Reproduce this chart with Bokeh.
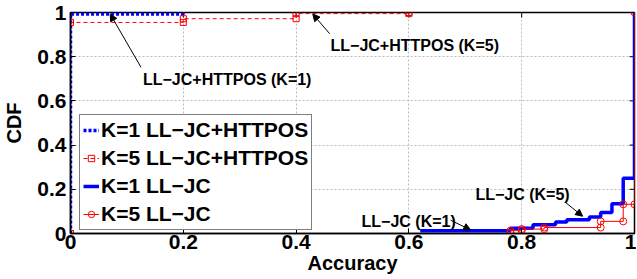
from bokeh.plotting import figure
from bokeh.models import (FixedTicker, Range1d, Label, Arrow, NormalHead,
                          Legend, LegendItem)
from bokeh.embed import file_html
from bokeh.resources import INLINE

# ---------------- data (CDF step functions) -------------
# K=1 LL-JC+HTTPOS
k1h_start = (0.0, 0.0)
k1h_x = [0.0, 0.2]
k1h_cdf = [0.993, 1.0]
# K=5 LL-JC+HTTPOS
k5h_start = (0.0, 0.0)
k5h_x = [0.0, 0.2, 0.4, 0.6]
k5h_cdf = [0.955, 0.972, 0.995, 1.0]
# K=1 LL-JC
k1_start = (0.62, 0.013)
k1_x = [0.78, 0.82, 0.86, 0.88, 0.92, 0.94, 0.96, 0.98, 1.0]
k1_cdf = [0.024, 0.040, 0.052, 0.062, 0.075, 0.095, 0.135, 0.25, 1.0]
# K=5 LL-JC
k5_start = (0.78, 0.003)
k5_x = [0.78, 0.80, 0.84, 0.94, 0.98, 1.0]
k5_cdf = [0.013, 0.020, 0.027, 0.055, 0.132, 1.0]

x_ticks = [0, 0.2, 0.4, 0.6, 0.8, 1]
y_ticks = [0, 0.2, 0.4, 0.6, 0.8, 1]

x_title = "Accuracy"
y_title = "CDF"
labels = ["K=1 LL\u2212JC+HTTPOS", "K=5 LL\u2212JC+HTTPOS",
          "K=1 LL\u2212JC", "K=5 LL\u2212JC"]

# annotations: text, text position, arrow tail, arrow head
notes = [
    ("LL\u2212JC+HTTPOS (K=1)", (0.1285, 0.697), (0.125, 0.752), (0.0704, 0.993)),
    ("LL\u2212JC+HTTPOS (K=5)", (0.461, 0.850), (0.4595, 0.904), (0.4296, 0.993)),
    ("LL\u2212JC (K=1)", (0.516, 0.055), (0.674, 0.060), (0.7095, 0.016)),
    ("LL\u2212JC (K=5)", (0.718, 0.178), (0.877, 0.142), (0.908, 0.078)),
]


def stairs(start, xs, levels):
    X = [start[0]]
    Y = [start[1]]
    prev = start[1]
    for x, l in zip(xs, levels):
        X += [x, x]
        Y += [prev, l]
        prev = l
    return X, Y


FONT = "Liberation Sans"
BLUE = "#0000ff"
RED = "#ff0000"

p = figure(width=636, height=277, x_range=Range1d(0, 1), y_range=Range1d(0, 1),
           output_backend="svg", toolbar_location=None,
           min_border_left=66, min_border_right=2, min_border_top=12,
           min_border_bottom=44)

p.outline_line_color = "black"
p.outline_line_width = 1.5
p.outline_line_alpha = 1.0

for ax, ticks in ((p.xaxis, x_ticks), (p.yaxis, y_ticks)):
    ax.ticker = FixedTicker(ticks=ticks)
    ax.axis_line_color = "black"
    ax.axis_line_width = 1.5
    ax.major_tick_in = 5
    ax.major_tick_out = 0
    ax.minor_tick_in = 0
    ax.minor_tick_out = 0
    ax.major_tick_line_color = "black"
    ax.major_label_overrides = {0: "0", 1: "1"}
    ax.major_label_text_font = FONT
    ax.major_label_text_font_style = "bold"
    ax.major_label_text_font_size = "21px"
    ax.major_label_text_color = "black"
    ax.axis_label_text_font = FONT
    ax.axis_label_text_font_style = "bold"
    ax.axis_label_text_font_size = "20px"
    ax.axis_label_text_color = "black"
p.xaxis.axis_label = x_title
p.yaxis.axis_label = y_title
p.xaxis.major_label_standoff = 1
p.xaxis.axis_label_standoff = 0
p.yaxis.major_label_standoff = 4
p.yaxis.axis_label_standoff = 9

for g in (p.xgrid, p.ygrid):
    g.grid_line_color = "#bdbdbd"
    g.grid_line_dash = "2 2"
    g.grid_line_width = 1

# inward box ticks on the top and right edges (same tick positions)
tick_len_x = 5 / 568
tick_len_y = 5 / 218
p.segment(x0=x_ticks, x1=x_ticks, y0=[1] * len(x_ticks),
          y1=[1 - tick_len_y] * len(x_ticks), line_color="black", line_width=1)
p.segment(x0=[1] * len(y_ticks), x1=[1 - tick_len_x] * len(y_ticks),
          y0=y_ticks, y1=y_ticks, line_color="black", line_width=1)

# series
X, Y = stairs(k1h_start, k1h_x, k1h_cdf)
r1 = p.line(X, Y, line_color=BLUE, line_width=3.5, line_dash="3 2")

X, Y = stairs(k5h_start, k5h_x, k5h_cdf)
r2l = p.line(X, Y, line_color=RED, line_width=1, line_dash="4 3")
r2m = p.scatter(X, Y, marker="square", size=6, line_color=RED,
                fill_color=None, line_width=1)

X, Y = stairs(k1_start, k1_x, k1_cdf)
r3 = p.line(X, Y, line_color=BLUE, line_width=3.5)

X, Y = stairs(k5_start, k5_x, k5_cdf)
r4l = p.line(X, Y, line_color=RED, line_width=1)
r4m = p.scatter(X, Y, marker="circle", size=7, line_color=RED,
                fill_color=None, line_width=1)

# annotations
for text, (tx, ty), (ax0, ay0), (ax1, ay1) in notes:
    p.add_layout(Arrow(end=NormalHead(size=7, fill_color="black",
                                      line_color="black", line_width=1),
                       x_start=ax0, y_start=ay0, x_end=ax1, y_end=ay1,
                       line_color="black", line_width=1))
    p.add_layout(Label(x=tx, y=ty, text=text, text_font=FONT,
                       text_font_style="bold", text_font_size="16px",
                       text_align="left", text_baseline="middle",
                       text_color="black"))

legend = Legend(items=[
    LegendItem(label=labels[0], renderers=[r1]),
    LegendItem(label=labels[1], renderers=[r2l, r2m]),
    LegendItem(label=labels[2], renderers=[r3]),
    LegendItem(label=labels[3], renderers=[r4l, r4m]),
], location=(9, 3))
legend.label_text_font = FONT
legend.label_text_font_style = "bold"
legend.label_text_font_size = "21px"
legend.label_text_color = "black"
legend.label_height = 22
legend.glyph_height = 22
legend.glyph_width = 16
legend.label_standoff = 2
legend.spacing = 4
legend.padding = 3
legend.margin = 0
legend.border_line_color = "black"
legend.border_line_width = 1.5
legend.background_fill_color = "white"
legend.background_fill_alpha = 1.0
p.add_layout(legend)

open("out.html", "w").write(file_html(p, INLINE))
